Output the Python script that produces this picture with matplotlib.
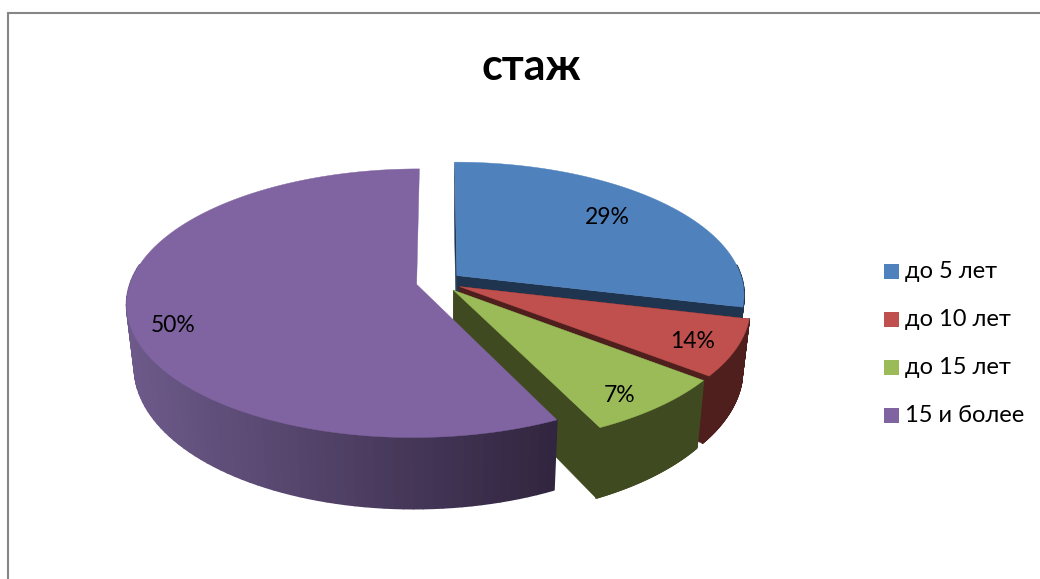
import numpy as np
import matplotlib
matplotlib.use("Agg")
import matplotlib.pyplot as plt
from matplotlib.patches import Polygon, Rectangle
from matplotlib.colors import to_rgb

plt.rcParams['font.family'] = ['Lato', 'Open Sans', 'DejaVu Sans']

title = "стаж"
categories = ["до 5 лет", "до 10 лет", "до 15 лет", "15 и более"]
# printed labels
percent_labels = ["29%", "14%", "7%", "50%"]
# slice sizes as they look in the picture (they disagree with the printed labels)
slice_shares = [28.8, 6.8, 7.2, 57.2]
top_colors = ["#4f81bd", "#c0504d", "#9bbb59", "#8064a2"]
wall_colors = ["#1f344f", "#4f1f1e", "#3f4a20", "#6d5a8a"]
wall_dark = ["#1f344f", "#4f1f1e", "#3f4a20", "#31253f"]

# camera
cx, cy = 439, 282
rx, ry = 286, 131
persp = 0.14
depth = 61
explode = 0.08


def project(X, Z, drop=0.0):
    s = 1 / (1 + persp * Z)
    px = cx + rx * X * s * (1 - 0.025 * drop)
    py = cy - ry * Z * s + depth * drop * s
    return px, py


def slicePoints(a0, a1, n=120):
    t = np.radians(np.linspace(a0, a1, n))
    mid = np.radians((a0 + a1) / 2)
    ex, ez = explode * np.sin(mid), explode * np.cos(mid)
    return ex, ez, ex + np.sin(t), ez + np.cos(t)


fig = plt.figure(figsize=(10.4, 5.79), dpi=100)
ax = fig.add_axes([0, 0, 1, 1])
ax.set_xlim(0, 1040)
ax.set_ylim(579, 0)
ax.axis("off")

# chart frame, only top and left are in the crop
ax.plot([1040, 8, 8], [13, 13, 579], color="#868686", lw=1.5, solid_joinstyle="miter")

edges = np.cumsum([0] + slice_shares) * 3.6
for i in range(len(slice_shares)):
    a0, a1 = edges[i], edges[i + 1]
    ex, ez, X, Z = slicePoints(a0, a1)
    base0, base1 = np.array(to_rgb(wall_colors[i])), np.array(to_rgb(wall_dark[i]))

    # flat cut wall on the side that faces the viewer
    if i < 3:
        for ang_X, ang_Z in [(X[0], Z[0]), (X[-1], Z[-1])]:
            p = [project(ex, ez), project(ang_X, ang_Z), project(ang_X, ang_Z, 1), project(ex, ez, 1)]
            ax.add_patch(Polygon(p, closed=True, fc=wall_dark[i], ec=wall_dark[i], lw=0.3, zorder=10 + i))

    # rim wall, cut in strips for the shading
    xt, yt = project(X, Z)
    xb, yb = project(X, Z, 1)
    for j in range(len(X) - 1):
        if Z[j] > 0.12 and Z[j + 1] > 0.12:
            continue
        f = np.clip(((xt[j] + xt[j + 1]) / 2 - 125) / 430, 0, 1)
        c = base0 + (base1 - base0) * f
        p = [(xt[j], yt[j]), (xt[j + 1], yt[j + 1]), (xb[j + 1], yb[j + 1]), (xb[j], yb[j])]
        ax.add_patch(Polygon(p, closed=True, fc=c, ec=c, lw=1.2, joinstyle="round", zorder=10 + i))

    # top face
    tip = project(ex, ez)
    p = [tip] + list(zip(xt, yt))
    ax.add_patch(Polygon(p, closed=True, fc=top_colors[i], ec=top_colors[i], lw=0.3, zorder=10 + i))

label_x = [607, 693, 620, 173]
label_y = [218, 342, 396, 325]
for i in range(4):
    ax.text(label_x[i], label_y[i], percent_labels[i], fontsize=16.5, color="black",
            ha="center", va="center", zorder=30)

ax.text(531, 67, title, fontsize=31, fontweight="bold", ha="center", va="center", color="black")

legend_y = [271.5, 319.5, 367.5, 415.5]
for i in range(4):
    ax.add_patch(Rectangle((884, legend_y[i] - 8), 15, 15, fc=top_colors[i], ec="none"))
    ax.text(905, legend_y[i], categories[i], fontsize=17, color="black", ha="left", va="center")

fig.savefig("out.png", dpi=100)
